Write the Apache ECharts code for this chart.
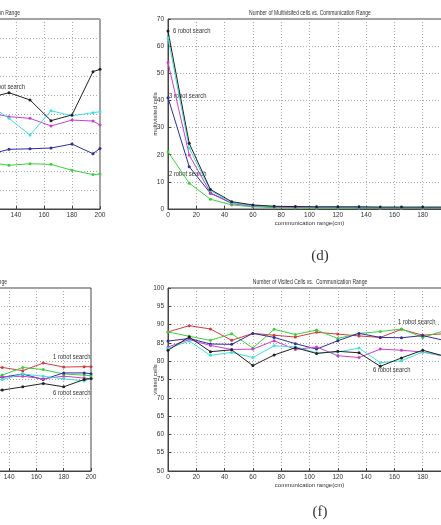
<!DOCTYPE html>
<html lang="en">
<head>
  <meta charset="UTF-8">
  <title>Communication Range</title>
  <script src="https://cdn.jsdelivr.net/npm/echarts/dist/echarts.min.js"></script>
  <style>
    html, body { margin: 0; padding: 0; background: #fff; overflow: hidden; }
    #main { width: 441px; height: 525px; }
  </style>
</head>
<body>
  <div id="main"></div>
  <script>
    // communication range (cm)
    const rangeFull = [0, 15, 30, 45, 60, 75, 90, 105, 120, 135, 150, 165, 180, 195, 200]
    const rangeTail = [120, 135, 150, 165, 180, 195, 200]   // only this part is in view on the left plots

    // top left plot (cropped)
    const tlGreen   = [24.6, 23.0, 23.8, 23.5, 20.4, 18.1, 18.4]
    const tlBlue    = [28.6, 31.4, 31.7, 32.1, 34.2, 29.1, 31.9]
    const tlMagenta = [50.7, 48.6, 47.7, 43.7, 46.8, 46.3, 44.2]
    const tlCyan    = [55.4, 47.7, 38.9, 51.7, 49.1, 50.7, 51.2]
    const tlBlack   = [58.4, 61.2, 57.4, 46.5, 49.5, 72.3, 73.5]

    // (d) multivisited cells
    const mvGreen   = [21.1, 9.5, 3.6, 1.5, 0.8, 0.5, 0.4, 0.3, 0.3, 0.3, 0.2, 0.2, 0.2, 0.2, 0.2]
    const mvBlue    = [41.0, 15.6, 5.8, 2.2, 1.2, 0.9, 0.7, 0.6, 0.6, 0.5, 0.5, 0.5, 0.5, 0.5, 0.5]
    const mvMagenta = [54.0, 19.9, 6.0, 2.0, 1.0, 0.8, 0.6, 0.5, 0.5, 0.5, 0.4, 0.4, 0.4, 0.4, 0.4]
    const mvCyan    = [63.1, 22.4, 6.8, 2.3, 1.2, 0.9, 0.8, 0.7, 0.7, 0.7, 0.6, 0.6, 0.6, 0.6, 0.6]
    const mvBlack   = [65.6, 24.2, 7.2, 2.7, 1.5, 1.0, 0.9, 0.8, 0.8, 0.8, 0.7, 0.7, 0.7, 0.7, 0.7]

    // bottom left plot (cropped)
    const blRed     = [78.3, 78.3, 77.4, 79.5, 78.4, 78.5, 78.5]
    const blGreen   = [76.0, 76.2, 78.3, 77.7, 76.5, 76.2, 76.0]
    const blBlue    = [75.5, 75.6, 76.5, 75.0, 76.8, 76.8, 76.6]
    const blMagenta = [75.6, 75.7, 75.9, 75.2, 75.9, 75.4, 75.2]
    const blCyan    = [74.8, 75.0, 76.5, 75.9, 75.2, 74.6, 75.3]
    const blBlack   = [71.8, 72.1, 73.0, 73.9, 73.0, 75.0, 75.3]

    // (f) visited cells
    const vcRed     = [88.0, 89.7, 88.8, 85.7, 87.6, 87.1, 86.6, 87.9, 87.4, 86.9, 86.5, 88.7, 87.1, 87.5, 87.5]
    const vcGreen   = [88.0, 86.8, 85.7, 87.5, 83.6, 88.7, 87.3, 88.5, 86.2, 87.6, 88.1, 88.8, 86.5, 88.3, 88.3]
    const vcBlue    = [85.5, 86.2, 84.7, 84.6, 87.6, 86.5, 84.8, 83.3, 85.6, 87.6, 86.5, 86.4, 87.0, 85.7, 85.5]
    const vcMagenta = [83.9, 85.9, 84.3, 83.2, 83.3, 85.6, 83.2, 83.9, 81.5, 81.0, 83.3, 83.0, 82.5, 81.4, 81.2]
    const vcCyan    = [83.5, 85.5, 81.6, 82.4, 81.0, 84.2, 83.9, 82.3, 82.5, 83.6, 79.6, 80.1, 82.5, 81.4, 81.2]
    const vcBlack   = [83.0, 86.6, 82.6, 83.1, 78.8, 81.7, 83.7, 82.1, 82.7, 82.3, 78.6, 80.9, 83.0, 81.4, 81.2]

    const font = 'Liberation Sans'
    const colors = {
      red: '#d23c3c', green: '#3ccf3c', blue: '#2e2e9c',
      magenta: '#cc3fcc', cyan: '#3fdede', black: '#222'
    }

    let chart = echarts.init(document.getElementById('main'))

    function xAx(grid) {
      return {
        type: 'value', gridIndex: grid, min: 0, max: 200, interval: 20,
        axisLine: { show: true, onZero: false, lineStyle: { color: '#444', width: 1 } },
        axisTick: { show: true, inside: true, length: 3, lineStyle: { color: '#444' } },
        axisLabel: { fontSize: 6.5, color: '#333', margin: 3, fontFamily: font, showMaxLabel: true, showMinLabel: true },
        splitLine: { show: true, lineStyle: { type: [1, 2], color: '#aaa' } },
        name: 'communication range(cm)', nameLocation: 'middle', nameGap: 11, nameMoveOverlap: false,
        nameTextStyle: { fontSize: 6, color: '#333', fontFamily: font }
      }
    }
    function yAx(grid, min, max, step, name) {
      return {
        type: 'value', gridIndex: grid, min: min, max: max, interval: step,
        axisLine: { show: true, lineStyle: { color: '#444', width: 1 } },
        axisTick: { show: true, inside: true, length: 3, lineStyle: { color: '#444' } },
        axisLabel: { fontSize: 6.5, color: '#333', margin: 4, fontFamily: font, showMaxLabel: true, showMinLabel: true },
        splitLine: { show: true, lineStyle: { type: [1, 2], color: '#aaa' } },
        name: name, nameLocation: 'middle', nameGap: 10, nameMoveOverlap: false,
        nameTextStyle: { fontSize: 6, color: '#333', fontFamily: font }
      }
    }
    function line(grid, xs, ys, color) {
      return {
        type: 'line', xAxisIndex: grid, yAxisIndex: grid,
        data: xs.map((x, i) => [x, ys[i]]),
        symbol: 'circle', symbolSize: 3, showSymbol: true,
        lineStyle: { width: 1, color: color },
        itemStyle: { color: color },
        animation: false, silent: true
      }
    }
    // small matlab-like text, squeezed horizontally
    function txt(x, y, s, align, size, squeeze, family) {
      return {
        type: 'text', x: x, y: y, silent: true, scaleX: squeeze || 1,
        style: {
          text: s, fill: '#333', align: align || 'left', verticalAlign: 'middle',
          fontSize: size || 7.5, fontFamily: family || font
        }
      }
    }

    const gridBase = { show: true, borderColor: '#444', borderWidth: 1, backgroundColor: 'transparent', containLabel: false, outerBoundsMode: 'none' }

    let option = {
      animation: false,
      backgroundColor: '#fff',
      grid: [
        Object.assign({ left: -180, top: 19, width: 280, height: 190 }, gridBase),
        Object.assign({ left: 168, top: 19, width: 283, height: 190 }, gridBase),
        Object.assign({ left: -182, top: 288, width: 273, height: 183 }, gridBase),
        Object.assign({ left: 168, top: 288, width: 283, height: 183 }, gridBase)
      ],
      xAxis: [xAx(0), xAx(1), xAx(2), xAx(3)],
      yAxis: [
        yAx(0, 0, 100, 10, 'search steps'),
        yAx(1, 0, 70, 10, 'multivisited cells'),
        yAx(2, 50, 100, 5, 'visited cells'),
        yAx(3, 50, 100, 5, 'visited cells')
      ],
      series: [
        line(0, rangeTail, tlGreen, colors.green),
        line(0, rangeTail, tlBlue, colors.blue),
        line(0, rangeTail, tlMagenta, colors.magenta),
        line(0, rangeTail, tlCyan, colors.cyan),
        line(0, rangeTail, tlBlack, colors.black),

        line(1, rangeFull, mvGreen, colors.green),
        line(1, rangeFull, mvBlue, colors.blue),
        line(1, rangeFull, mvMagenta, colors.magenta),
        line(1, rangeFull, mvCyan, colors.cyan),
        line(1, rangeFull, mvBlack, colors.black),

        line(2, rangeTail, blRed, colors.red),
        line(2, rangeTail, blGreen, colors.green),
        line(2, rangeTail, blBlue, colors.blue),
        line(2, rangeTail, blMagenta, colors.magenta),
        line(2, rangeTail, blCyan, colors.cyan),
        line(2, rangeTail, blBlack, colors.black),

        line(3, rangeFull, vcRed, colors.red),
        line(3, rangeFull, vcGreen, colors.green),
        line(3, rangeFull, vcBlue, colors.blue),
        line(3, rangeFull, vcMagenta, colors.magenta),
        line(3, rangeFull, vcCyan, colors.cyan),
        line(3, rangeFull, vcBlack, colors.black)
      ],
      graphic: [
        // plot titles
        txt(20, 13, 'Number of Search Steps vs. Communication Range', 'right', 7, 0.72),
        txt(310, 13, 'Number of Multivisited cells vs. Communication Range', 'center', 7, 0.72),
        txt(7, 282, 'Number of Visited Cells vs. Communication Range', 'right', 7, 0.72),
        txt(310, 282, 'Number of Visited Cells vs.  Communication Range', 'center', 7, 0.72),
        // in-plot notes
        txt(25, 87, '6 robot search', 'right', 7.5, 0.78),
        txt(173, 31, '6 robot search', 'left', 7.5, 0.78),
        txt(169, 96, '3 robot search', 'left', 7.5, 0.78),
        txt(169, 174, '2 robot search', 'left', 7.5, 0.78),
        txt(53, 357, '1 robot search', 'left', 7.5, 0.78),
        txt(53, 393, '6 robot search', 'left', 7.5, 0.78),
        txt(398, 322, '1 robot search', 'left', 7.5, 0.78),
        txt(373, 370, '6 robot search', 'left', 7.5, 0.78),
        // sub-figure captions
        txt(320, 256, '(d)', 'center', 15, 1, 'Liberation Serif'),
        txt(320, 512, '(f)', 'center', 15, 1, 'Liberation Serif')
      ]
    }

    chart.setOption(option)
  </script>
</body>
</html>
